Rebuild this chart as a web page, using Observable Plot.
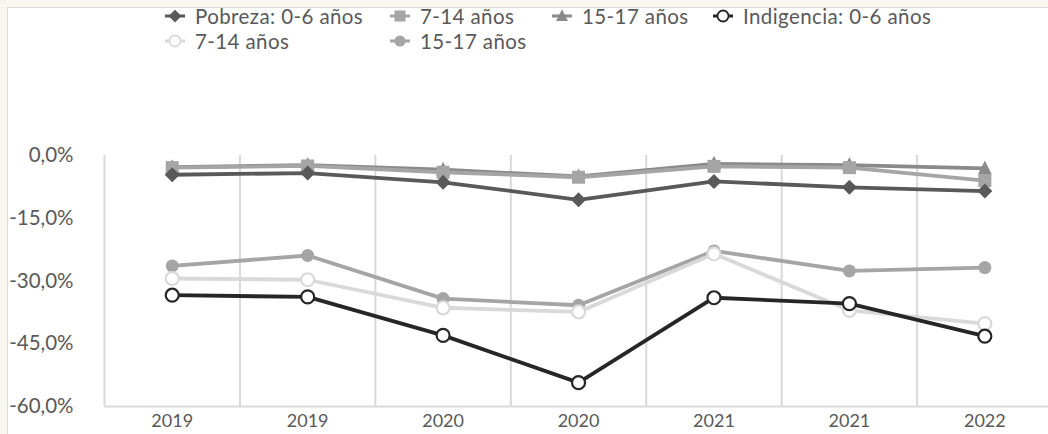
<!DOCTYPE html>
<html>
<head>
<meta charset="utf-8">
<script src="https://cdn.jsdelivr.net/npm/d3@7"></script>
<script src="https://cdn.jsdelivr.net/npm/@observablehq/plot@0.6"></script>
<style>
  html, body { margin: 0; padding: 0; }
  body { background: #F7F7F0; width: 1048px; height: 434px; overflow: hidden; font-family: Lato, "Open Sans", sans-serif; position: relative; }
  #panel { position: absolute; left: 7px; top: 7px; width: 1041px; height: 427px; background: #fff; border-left: 1px solid #d9d9d9; border-top: 1px solid #d9d9d9; box-sizing: border-box; }
  #legend { position: relative; height: 60px; }
  .item { position: absolute; height: 24px; line-height: 24px; display: flex; align-items: center; font-size: 20.5px; letter-spacing: 0.4px; color: #595959; white-space: nowrap; }
  .item svg { display: block; }
  .item span { margin-left: 8px; line-height: 24px; }
  #chart svg { display: block; }
</style>
</head>
<body>
<div id="panel">
  <div id="legend"></div>
  <div id="chart"></div>
</div>
<script>
// ---- data ----
const years = ["2019", "2019", "2020", "2020", "2021", "2021", "2022"];
const pobreza06   = [-4.6, -4.2, -6.4, -10.6, -6.2, -7.6, -8.5];
const pobreza714  = [-2.9, -2.5, -4.0, -5.2, -2.6, -2.9, -6.0];
const pobreza1517 = [-2.8, -2.3, -3.4, -5.0, -2.0, -2.3, -3.1];
const indig06     = [-33.4, -33.8, -43.0, -54.3, -34.0, -35.4, -43.2];
const indig714    = [-29.4, -29.7, -36.4, -37.4, -23.5, -37.0, -40.2];
const indig1517   = [-26.4, -23.9, -34.2, -35.8, -22.8, -27.6, -26.8];
const yTicks = [0, -15, -30, -45, -60];
const seriesNames = ["Pobreza: 0-6 años", "7-14 años", "15-17 años", "Indigencia: 0-6 años", "7-14 años", "15-17 años"];

// ---- symbols ----
const diamondSym = {draw(c) { const r = 7.5; c.moveTo(0, -r); c.lineTo(r, 0); c.lineTo(0, r); c.lineTo(-r, 0); c.closePath(); }};
const squareSym = {draw(c) { const h = 6.5; c.rect(-h, -h, 2 * h, 2 * h); }};
const triSym = {draw(c) { const h = 7; c.moveTo(0, -h - 1); c.lineTo(h, h - 1); c.lineTo(-h, h - 1); c.closePath(); }};
const circSym = {draw(c) { const r = 6.5; c.moveTo(r, 0); c.arc(0, 0, r, 0, 2 * Math.PI); }};

const series = [
  {name: seriesNames[0], values: pobreza06, color: "#595959", sym: diamondSym, fill: "#595959", mstroke: "none"},
  {name: seriesNames[1], values: pobreza714, color: "#A5A5A5", sym: squareSym, fill: "#A5A5A5", mstroke: "none"},
  {name: seriesNames[2], values: pobreza1517, color: "#8A8A8A", sym: triSym, fill: "#8A8A8A", mstroke: "none"},
  {name: seriesNames[3], values: indig06, color: "#262626", sym: circSym, fill: "#ffffff", mstroke: "#262626"},
  {name: seriesNames[4], values: indig714, color: "#D9D9D9", sym: circSym, fill: "#ffffff", mstroke: "#D9D9D9"},
  {name: seriesNames[5], values: indig1517, color: "#A5A5A5", sym: circSym, fill: "#A5A5A5", mstroke: "none"}
];

// ---- legend ----
const legendPos = [
  {cx: 175, cy: 16}, {cx: 400, cy: 16}, {cx: 562, cy: 16}, {cx: 723, cy: 16},
  {cx: 175, cy: 41}, {cx: 400, cy: 41}
];
const legend = document.getElementById("legend");
series.forEach((s, k) => {
  const p = legendPos[k];
  const div = document.createElement("div");
  div.className = "item";
  div.style.left = (p.cx - 8 - 12) + "px";
  div.style.top = (p.cy - 8 - 12) + "px";
  const svg = d3.create("svg").attr("width", 24).attr("height", 20);
  svg.append("line").attr("x1", 2).attr("x2", 22).attr("y1", 10).attr("y2", 10)
    .attr("stroke", s.color).attr("stroke-width", 3);
  const path = d3.path();
  s.sym.draw(path);
  svg.append("path").attr("d", path.toString()).attr("transform", "translate(12,10) scale(0.85)")
    .attr("fill", s.fill).attr("stroke", s.mstroke).attr("stroke-width", 2.2);
  div.appendChild(svg.node());
  const span = document.createElement("span");
  span.textContent = s.name;
  div.appendChild(span);
  legend.appendChild(div);
});

// ---- chart ----
const rows = series.flatMap((s, k) => s.values.map((v, i) => ({k, i, v})));
const fmt = d => d.toFixed(1).replace(".", ",") + "%";
const boundaries = d3.range(years.length - 1).map(i => i + 0.5);

const marks = [
  Plot.ruleX([-0.5, ...boundaries], {stroke: "#D9D9D9", strokeWidth: 2}),
  Plot.ruleY([-60], {stroke: "#D9D9D9", strokeWidth: 2}),
  Plot.axisY({ticks: yTicks, tickFormat: fmt, tickSize: 0, tickPadding: 31, fontSize: 20.5, fill: "#595959", label: null}),
  Plot.axisX({ticks: d3.range(years.length), tickFormat: i => years[i], tickSize: 0, tickPadding: 8, fontSize: 18, fill: "#595959", label: null})
];
// drawing order: last series at the bottom, first on top
const drawOrder = [5, 4, 3, 2, 1, 0];
for (const k of drawOrder) {
  const s = series[k];
  const d = rows.filter(r => r.k === k);
  marks.push(Plot.line(d, {x: "i", y: "v", stroke: s.color, strokeWidth: 3.8}));
  marks.push(Plot.dot(d, {x: "i", y: "v", symbol: () => s.sym, fill: s.fill, stroke: s.mstroke, strokeWidth: 2.2, r: 6}));
}

const chart = Plot.plot({
  width: 1040,
  height: 366,
  marginLeft: 96,
  marginRight: 0,
  marginTop: 87,
  marginBottom: 28,
  style: {fontFamily: "Lato, 'Open Sans', sans-serif", background: "transparent", overflow: "visible"},
  x: {type: "linear", domain: [-0.5, 6.47]},
  y: {domain: [-60, 0]},
  symbol: {type: "identity"},
  marks
});
document.getElementById("chart").appendChild(chart);
</script>
</body>
</html>
